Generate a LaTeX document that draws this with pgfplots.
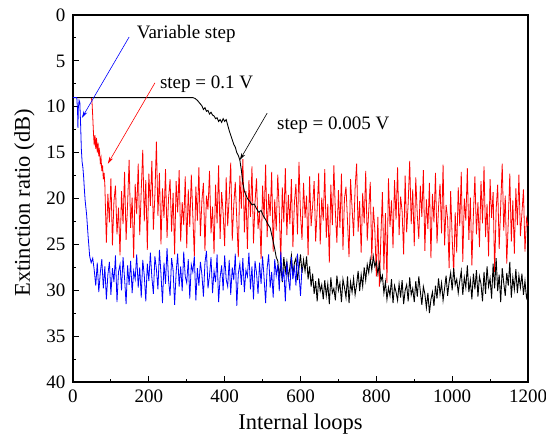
\documentclass[border=0pt]{standalone}
\usepackage{fontspec}
\setmainfont{Liberation Serif}
\usepackage{pgfplots}
\pgfplotsset{compat=1.18}
\usetikzlibrary{arrows.meta}
\begin{document}
\begin{tikzpicture}
\useasboundingbox (-73bp,-59bp) rectangle (473bp,382bp);
\begin{axis}[
 at={(0,0)}, anchor=south west,
 width=455bp, height=367bp, scale only axis,
 xmin=0, xmax=1200, ymin=0, ymax=40, y dir=reverse,
 xtick={0,200,...,1200}, ytick={0,5,...,40},
 minor x tick num=1, minor y tick num=1,
 xtick pos=bottom, ytick pos=left,
 tick align=inside,
 major tick length=6bp, minor tick length=3.5bp,
 axis line style={line width=1.1bp},
 every tick/.style={line width=0.9bp, black},
 tick label style={font=\fontsize{19bp}{22bp}\selectfont},
 /pgf/number format/assume math mode=true,
 /pgf/number format/1000 sep={},
 scaled x ticks=false,
 xticklabel style={yshift=-4bp}, yticklabel style={xshift=-4bp},
 xlabel={Internal loops}, ylabel={Extinction ratio (dB)},
 label style={font=\fontsize{22.5bp}{26bp}\selectfont},
 xlabel style={yshift=-5bp},
 ylabel style={yshift=5bp, xshift=-4.5bp},
 clip=false,
]
% step = 0.1 V
\addplot[red, line width=0.8bp] coordinates {
(0,9.0)(48,9.0)(50,9.4)(52,11.0)(54,12.9)(56,14.2)(58,13.1)(60,14.6)(62,13.4)(64,15.0)(66,13.9)(68,15.4)(70,14.8)(72,16.1)(74,15.6)(76,17.0)(78,16.4)(80,17.9)(82,17.2)(84,18.5)
(88,24.8)(92,19.5)(96,22.6)(100,17.8)(104,25.1)(108,20.3)(112,18.6)(116,23.9)(120,21.0)(124,26.2)
(128,19.2)(132,22.8)(136,17.1)(140,24.5)(144,20.6)(148,15.8)(152,23.2)(156,19.9)(160,26.5)(164,18.4)
(168,21.7)(172,16.2)(176,24.0)(180,19.1)(184,14.7)(188,22.5)(192,18.0)(196,25.6)(200,17.3)(204,20.8)
(208,15.9)(212,23.4)(216,19.6)(220,13.8)(224,21.9)(228,17.2)(232,25.0)(236,18.9)(240,22.1)(244,16.8)
(248,24.3)(252,20.0)(256,17.9)(260,23.6)(264,19.4)(268,26.1)(272,18.1)(276,21.5)(280,16.9)(284,24.7)
(288,20.4)(292,22.9)(296,17.6)(300,25.4)(304,19.0)(308,23.1)(312,17.4)(316,21.8)(320,26.3)(324,18.7)
(328,22.4)(332,16.6)(336,24.1)(340,20.2)(344,18.3)(348,25.7)(352,19.7)(356,21.2)(360,17.0)(364,23.8)
(368,20.9)(372,26.0)(376,18.5)(380,22.7)(384,16.4)(388,24.4)(392,19.3)(396,21.6)(400,25.2)(404,17.7)
(408,23.0)(412,19.8)(416,16.1)(420,24.6)(424,20.7)(428,18.2)(432,22.3)(436,26.4)(440,17.5)(444,21.1)
(448,15.7)(452,23.7)(456,19.2)(460,25.5)(464,18.0)(468,22.0)(472,16.5)(476,24.9)(480,20.5)(484,17.8)
(488,23.3)(492,21.4)(496,26.6)(500,18.6)(504,22.2)(508,16.3)(512,24.2)(516,19.5)(520,21.9)(524,17.1)
(528,25.8)(532,20.1)(536,23.5)(540,17.4)(544,21.3)(548,26.8)(552,18.8)(556,22.6)(560,16.7)(564,24.0)
(568,19.6)(572,22.8)(576,17.9)(580,25.3)(584,20.4)(588,18.4)(592,23.9)(596,16.0)(600,21.7)(604,24.5)
(608,18.3)(612,22.1)(616,19.7)(620,26.2)(624,17.6)(628,23.0)(632,20.8)(636,18.1)(640,24.7)(644,21.2)
(648,17.2)(652,25.0)(656,19.9)(660,22.4)(664,16.8)(668,24.3)(672,20.6)(676,27.0)(680,18.5)(684,22.9)
(688,16.4)(692,21.5)(696,24.8)(700,19.1)(704,23.2)(708,17.3)(712,25.6)(716,20.0)(720,18.7)(724,22.5)
(728,26.4)(732,17.9)(736,21.0)(740,24.1)(744,18.9)(748,16.2)(752,23.6)(756,20.3)(760,25.9)(764,19.4)
(768,22.7)(772,17.0)(776,24.6)(780,21.3)(784,18.2)(788,26.7)(792,20.9)(796,23.4)(800,28.5)(804,22.0)
(808,29.6)(812,24.2)(816,19.3)(820,27.8)(824,21.6)(828,29.2)(832,17.8)(836,23.1)(840,20.2)(844,25.4)
(848,18.0)(852,22.3)(856,16.6)(860,24.0)(864,19.8)(868,21.4)(872,26.1)(876,17.5)(880,23.7)(884,20.5)
(888,15.9)(892,22.8)(896,19.0)(900,25.2)(904,17.7)(908,21.8)(912,24.4)(916,18.6)(920,22.0)(924,16.9)
(928,25.7)(932,20.1)(936,23.3)(940,18.3)(944,26.5)(948,19.5)(952,22.6)(956,17.2)(960,24.9)(964,21.0)
(968,18.4)(972,23.8)(976,16.3)(980,25.1)(984,20.7)(988,22.2)(992,27.6)(996,19.2)(1000,24.3)(1004,28.2)
(1008,21.5)(1012,25.9)(1016,18.8)(1020,23.0)(1024,17.1)(1028,26.9)(1032,20.0)(1036,22.4)(1040,16.7)(1044,24.5)
(1048,19.9)(1052,27.3)(1056,21.7)(1060,17.6)(1064,23.9)(1068,20.4)(1072,25.3)(1076,18.1)(1080,22.7)(1084,16.5)
(1088,24.2)(1092,20.6)(1096,26.3)(1100,17.9)(1104,22.1)(1108,19.3)(1112,28.0)(1116,21.2)(1120,18.5)(1124,25.5)
(1128,20.8)(1132,16.2)(1136,23.5)(1140,19.7)(1144,27.1)(1148,22.5)(1152,17.3)(1156,24.7)(1160,20.2)(1164,26.0)
(1168,18.9)(1172,22.9)(1176,17.4)(1180,24.1)(1184,21.6)(1188,19.0)(1192,25.8)(1196,22.2)(1200,23.0)
};
% step = 0.005 V
\addplot[black, line width=0.9bp] coordinates {
(0,9.0)(100,9.0)(200,9.0)(316,9.0)(322,9.1)(328,9.3)(334,9.6)(340,9.9)(344,10.3)(348,10.1)(352,10.5)(356,10.4)(360,10.8)(364,10.6)(368,10.9)(372,11.0)(376,11.3)(380,11.2)(384,11.6)(388,11.4)(392,11.7)(396,11.3)(400,11.6)(404,11.4)(408,12.0)(412,12.6)(416,13.1)(420,13.6)(424,14.1)(428,14.4)(432,15.0)(436,15.3)(440,15.8)(444,16.9)(448,18.3)(452,19.2)(456,19.6)(460,20.0)(466,20.3)(472,20.7)(478,20.6)(484,21.1)(490,21.5)(496,21.3)(502,21.9)(508,22.3)(514,22.8)(520,23.2)(526,24.3)(532,25.5)(536,26.4)
(540,26.8)(544,28.5)(548,27.3)(552,29.1)(556,26.4)(560,28.0)(564,26.9)(568,28.7)(572,27.5)(576,26.2)
(580,28.3)(584,27.0)(588,26.5)(592,28.9)(596,27.6)(600,26.1)(604,28.1)(608,26.7)(612,27.9)(616,26.3)
(620,28.8)(624,27.4)(628,29.6)(632,28.2)(636,30.4)(640,29.0)(644,31.2)(648,28.7)(652,30.1)(656,29.4)
(660,31.0)(664,28.9)(668,30.6)(672,29.3)(676,31.5)(680,28.6)(684,30.3)(688,29.8)(692,31.1)(696,28.4)
(700,30.0)(704,29.2)(708,31.3)(712,28.8)(716,29.7)(720,30.8)(724,28.5)(728,31.4)(732,29.1)(736,30.2)
(740,28.7)(744,30.5)(748,29.4)(752,27.9)(756,30.1)(760,28.3)(764,29.6)(768,27.5)(772,28.9)(776,27.2)
(780,28.1)(784,26.6)(788,27.8)(792,26.3)(796,27.4)(800,26.9)(804,28.2)(808,27.1)(812,29.0)(816,28.4)
(820,30.3)(824,29.1)(828,31.0)(832,29.7)(836,30.6)(840,28.8)(844,31.4)(848,29.5)(852,30.2)(856,31.1)
(860,29.3)(864,30.8)(868,28.9)(872,31.5)(876,30.0)(880,29.4)(884,31.2)(888,28.6)(892,30.5)(896,29.8)
(900,31.3)(904,29.0)(908,30.7)(912,28.5)(916,30.1)(920,31.6)(924,29.6)(928,30.4)(932,31.9)(936,30.3)
(940,32.5)(944,31.0)(948,30.2)(952,31.7)(956,29.5)(960,30.9)(964,28.7)(968,30.4)(972,29.2)(976,31.1)
(980,29.8)(984,28.4)(988,30.6)(992,29.1)(996,28.1)(1000,30.0)(1004,27.6)(1008,29.4)(1012,28.8)(1016,30.3)
(1020,29.0)(1024,27.9)(1028,30.5)(1032,28.6)(1036,29.7)(1040,27.3)(1044,30.2)(1048,28.9)(1052,31.0)(1056,28.2)
(1060,29.9)(1064,27.8)(1068,30.7)(1072,28.5)(1076,29.3)(1080,31.2)(1084,28.0)(1088,30.4)(1092,27.4)(1096,29.6)
(1100,28.7)(1104,30.9)(1108,27.1)(1112,29.8)(1116,26.5)(1120,30.1)(1124,28.3)(1128,31.3)(1132,27.6)(1136,29.2)
(1140,30.6)(1144,28.1)(1148,29.5)(1152,26.9)(1156,30.8)(1160,28.6)(1164,29.9)(1168,27.7)(1172,30.3)(1176,28.4)
(1180,29.7)(1184,28.2)(1188,30.5)(1192,29.0)(1196,30.8)(1200,30.2)
};
% Variable step
\addplot[blue, line width=0.8bp] coordinates {
(0,9.0)(10,9.0)(12,10.4)(13,12.3)(14,10.2)(16,9.3)(18,9.5)(20,11.8)(22,14.6)(24,16.0)(26,16.6)(28,17.6)(30,19.0)(32,20.2)(36,21.8)(40,24.2)(44,26.3)(48,27.0)
(52,26.5)(56,27.8)(60,29.5)(64,27.0)(68,30.2)(72,28.1)(76,26.6)(80,29.8)(84,27.4)(88,31.0)
(92,28.3)(96,26.9)(100,30.5)(104,27.6)(108,29.1)(112,26.2)(116,31.3)(120,28.0)(124,27.2)(128,30.0)
(132,26.4)(136,28.7)(140,31.5)(144,27.3)(148,29.4)(152,26.8)(156,30.3)(160,27.9)(164,28.8)(168,26.1)
(172,29.7)(176,27.5)(180,30.8)(184,26.7)(188,28.4)(192,31.2)(196,27.1)(200,29.0)(204,25.9)(208,28.6)
(212,30.4)(216,26.3)(220,27.7)(224,29.9)(228,25.6)(232,28.2)(236,31.4)(240,27.0)(244,29.3)(248,25.4)
(252,28.9)(256,30.6)(260,26.5)(264,27.8)(268,31.6)(272,28.1)(276,26.0)(280,29.6)(284,27.4)(288,30.1)
(292,25.8)(296,28.5)(300,29.2)(304,26.6)(308,30.9)(312,27.2)(316,28.0)(320,26.3)(324,31.1)(328,27.6)
(332,29.5)(336,26.9)(340,28.3)(344,30.7)(348,27.0)(352,25.7)(356,29.8)(360,28.4)(364,26.4)(368,30.3)
(372,27.9)(376,29.1)(380,26.1)(384,31.3)(388,28.6)(392,27.3)(396,30.0)(400,26.2)(404,28.8)(408,29.6)
(412,26.7)(416,30.5)(420,27.5)(424,28.9)(428,26.0)(432,31.7)(436,28.2)(440,27.1)(444,29.4)(448,26.5)
(452,30.2)(456,27.8)(460,28.5)(464,25.9)(468,29.9)(472,27.4)(476,31.0)(480,26.8)(484,28.1)(488,30.4)
(492,27.0)(496,29.3)(500,26.3)(504,28.7)(508,31.4)(512,27.6)(516,26.1)(520,29.7)(524,28.0)(528,30.8)
(532,26.6)(536,28.4)(540,27.2)(544,30.1)(548,25.8)(552,29.0)(556,27.7)(560,31.2)(564,26.9)(568,28.6)
(572,30.0)(576,26.4)(580,28.8)(584,27.3)(588,29.5)(592,26.0)(596,28.2)(600,30.6)(604,27.5)
};
% annotations
\node[anchor=base west, font=\fontsize{19bp}{22bp}\selectfont, inner sep=0pt] at (axis cs:168,2.51) {Variable step};
\draw[blue, line width=0.6bp, -{Stealth[length=7bp,width=4bp]}] (axis cs:148,2.4) -- (axis cs:23.7,11.2);
\node[anchor=base west, font=\fontsize{19bp}{22bp}\selectfont, inner sep=0pt] at (axis cs:229,7.96) {step = 0.1 V};
\draw[red, line width=0.6bp, -{Stealth[length=7bp,width=4bp]}] (axis cs:216,7.4) -- (axis cs:92,16.2);
\node[anchor=base west, font=\fontsize{19bp}{22bp}\selectfont, inner sep=0pt] at (axis cs:538,12.53) {step = 0.005 V};
\draw[black, line width=0.6bp, -{Stealth[length=7bp,width=4bp]}] (axis cs:512,10.7) -- (axis cs:440,15.8);
\end{axis}
\end{tikzpicture}
\end{document}
